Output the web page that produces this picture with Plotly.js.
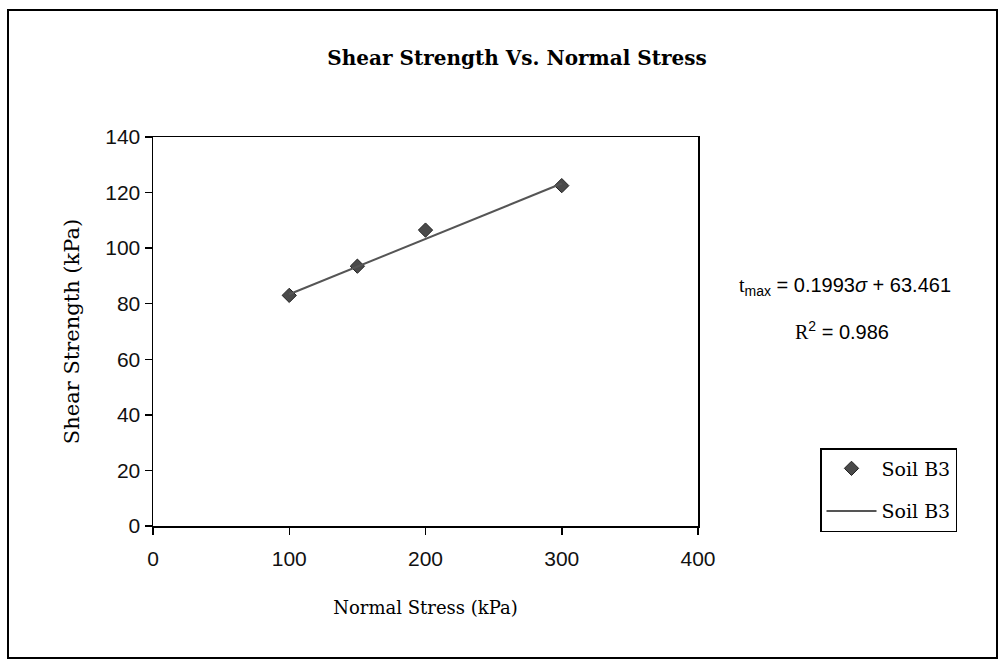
<!DOCTYPE html>
<html>
<head>
<meta charset="utf-8">
<script src="https://cdn.plot.ly/plotly-3.0.1.min.js"></script>
<style>
  html, body { margin: 0; padding: 0; background: #fff; }
  #chart { width: 1000px; height: 666px; }
</style>
</head>
<body>
<div id="chart"></div>
<script>
// Data
const normalStress = [100, 150, 200, 300];          // kPa
const shearStrength = [83, 93.5, 106.5, 122.5];     // kPa
const seriesName = "Soil B3";

// Linear trendline coefficients as printed on the chart
const trendSlope = 0.1993;
const trendIntercept = 63.461;
const rSquared = 0.986;
const trendX = [100, 300];
const trendY = trendX.map(x => trendSlope * x + trendIntercept);

const xTicks = [0, 100, 200, 300, 400];
const yTicks = [0, 20, 40, 60, 80, 100, 120, 140];

const serif = "DejaVu Serif, Liberation Serif, serif";
const sans = "Liberation Sans, Arial, sans-serif";

const traces = [
  {
    x: normalStress, y: shearStrength, name: seriesName, legendgroup: "pts",
    type: "scatter", mode: "markers",
    marker: { symbol: "diamond", size: 11, color: "#4a4a4a", line: { color: "#222", width: 1 } }
  },
  {
    x: trendX, y: trendY, name: seriesName, legendgroup: "fit",
    type: "scatter", mode: "lines",
    line: { color: "#555", width: 2 }
  }
];

// plot area in pixels: left 153, right 698, top 137, bottom 526
const L = 153, R = 698, T = 137, B = 526;
const px = p => (p - L) / (R - L);
const py = p => (B - p) / (B - T);

const layout = {
  width: 1000, height: 666,
  margin: { l: L, r: 1000 - R, t: T, b: 666 - B },
  paper_bgcolor: "#fff", plot_bgcolor: "#fff",
  showlegend: true,
  title: {
    text: "<b>Shear Strength Vs. Normal Stress</b>",
    font: { family: serif, size: 20, color: "#000" },
    x: 0.517, xref: "container", xanchor: "center",
    y: 1 - 58 / 666, yref: "container", yanchor: "middle"
  },
  xaxis: {
    range: [0, 400], tickvals: xTicks, ticktext: xTicks.map(String),
    showgrid: false, zeroline: false,
    showline: true, linecolor: "#000", linewidth: 1.5, mirror: true,
    ticks: "outside", ticklen: 7, tickcolor: "#000", tickwidth: 1.5,
    ticklabelstandoff: 6,
    tickfont: { family: sans, size: 21, color: "#111" },
    title: { text: "Normal Stress (kPa)", font: { family: serif, size: 18, color: "#000" }, standoff: 32 }
  },
  yaxis: {
    range: [0, 140], tickvals: yTicks, ticktext: yTicks.map(String),
    showgrid: false, zeroline: false,
    showline: true, linecolor: "#000", linewidth: 1.5, mirror: true,
    ticks: "outside", ticklen: 7, tickcolor: "#000", tickwidth: 1.5,
    tickfont: { family: sans, size: 21, color: "#111" },
    title: { text: "Shear Strength (kPa)", font: { family: serif, size: 21, color: "#000" }, standoff: 20 }
  },
  legend: {
    x: px(820), y: py(448), xanchor: "left", yanchor: "top",
    bgcolor: "#fff", bordercolor: "#000", borderwidth: 1.5,
    font: { family: serif, size: 19, color: "#000" },
    itemwidth: 50, tracegroupgap: 15
  },
  annotations: [
    {
      xref: "paper", yref: "paper", x: px(845), y: py(286),
      xanchor: "center", yanchor: "middle", showarrow: false,
      text: "<span style=\"font-family:Liberation Serif\">t</span><sub>max</sub> = " + trendSlope + "<i>σ</i> + " + trendIntercept,
      font: { family: sans, size: 20, color: "#000" }
    },
    {
      xref: "paper", yref: "paper", x: px(842), y: py(330),
      xanchor: "center", yanchor: "middle", showarrow: false,
      text: "<span style=\"font-family:Liberation Serif\">R</span><sup>2</sup> = " + rSquared,
      font: { family: sans, size: 20, color: "#000" }
    }
  ],
  shapes: [
    {
      type: "rect", xref: "paper", yref: "paper",
      x0: px(8), x1: px(997), y0: py(658), y1: py(10),
      line: { color: "#000", width: 2 }, fillcolor: "rgba(0,0,0,0)", layer: "below"
    }
  ]
};

Plotly.newPlot("chart", traces, layout, { displayModeBar: false, staticPlot: true });
</script>
</body>
</html>
